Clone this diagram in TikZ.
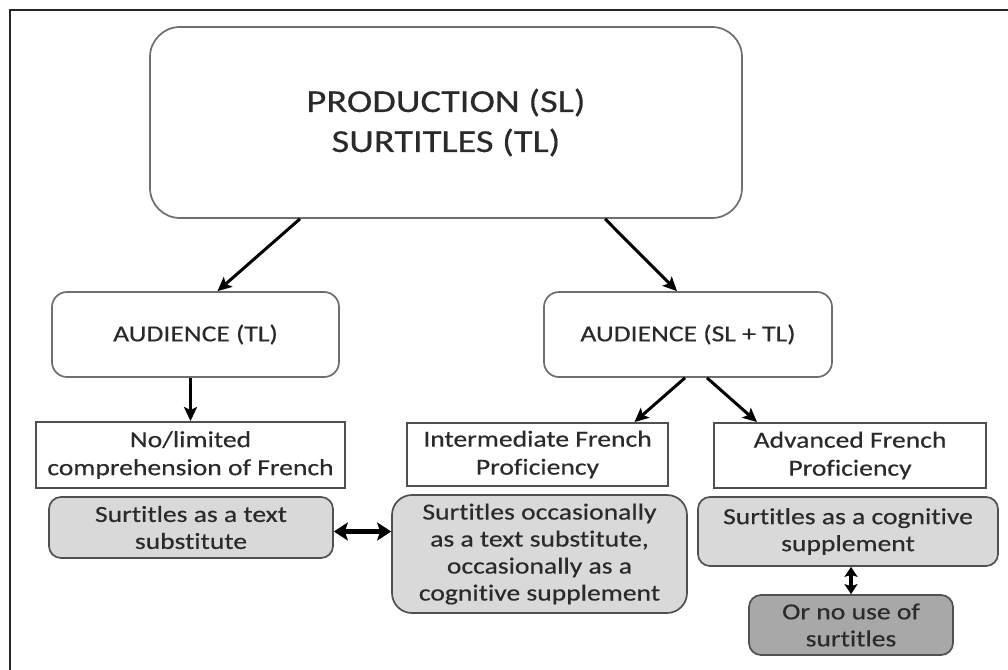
\documentclass[tikz,border=0pt]{standalone}
\usepackage{fontspec}
\setmainfont{Carlito}[FakeStretch=1.2, FakeBold=0.4, Ligatures={NoCommon}]
\usetikzlibrary{arrows.meta}
\definecolor{txt}{HTML}{2A2A2A}
\definecolor{lightfill}{HTML}{D9D9D9}
\definecolor{darkfill}{HTML}{A8A8A8}
\definecolor{edge}{HTML}{505050}
\definecolor{softedge}{HTML}{6E6E6E}
\begin{document}
\begin{tikzpicture}[x=1pt,y=-1pt,
  base/.style={align=center, text=txt, inner sep=0pt, font=\fontsize{23}{28}\selectfont},
  topbox/.style={base, draw=softedge, line width=1.7pt, rounded corners=30pt, font=\fontsize{32}{40}\selectfont},
  audbox/.style={base, draw=softedge, line width=1.7pt, rounded corners=15pt},
  rectbox/.style={base, draw=edge, line width=1.9pt},
  graybox/.style={base, draw=edge, fill=lightfill, line width=1.7pt, rounded corners=12pt, font=\fontsize{23}{27}\selectfont},
  darkbox/.style={graybox, fill=darkfill},
  arr/.style={draw=black, line width=3pt, -{Stealth[length=14pt,width=13pt,inset=3pt]}},
  dblarr/.style={draw=black, line width=5.5pt, {Stealth[length=14pt,width=18pt,inset=3pt]}-{Stealth[length=14pt,width=18pt,inset=3pt]}},
  vdblarr/.style={draw=black, line width=4pt, {Stealth[length=10pt,width=13pt,inset=2pt]}-{Stealth[length=10pt,width=13pt,inset=2pt]}},
  frame/.style={draw=black!85, line width=2pt}
]
\useasboundingbox (0,0) rectangle (1008,669);
\coordinate (fbl) at (10,670);
\coordinate (ftl) at (10,10);
\coordinate (ftr) at (1009,10);
\draw[frame] (fbl) -- (ftl) -- (ftr);

\node[topbox, minimum width=592pt, minimum height=191pt] (top) at (446,122.5) {PRODUCTION (SL)\\SURTITLES (TL)};

\node[audbox, minimum width=287pt, minimum height=85pt] (audtl) at (195.5,334.5) {AUDIENCE (TL)};
\node[audbox, minimum width=288pt, minimum height=85pt] (audsl) at (688,334.5) {AUDIENCE (SL + TL)};

\node[rectbox, minimum width=309pt, minimum height=66pt] (nolim) at (190.5,455) {No/limited\\comprehension of French};
\node[rectbox, minimum width=261pt, minimum height=63pt] (inter) at (537.5,454.5) {Intermediate French\\Proficiency};
\node[rectbox, minimum width=272pt, minimum height=65pt] (adv) at (850,455.5) {Advanced French\\Proficiency};

\node[graybox, minimum width=284pt, minimum height=61pt] (subst) at (191,527.5) {Surtitles as a text\\substitute};
\node[graybox, rounded corners=20pt, minimum width=295pt, minimum height=118pt] (occ) at (539.5,554) {Surtitles occasionally\\as a text substitute,\\occasionally as a\\cognitive supplement};
\node[graybox, minimum width=300pt, minimum height=69pt] (cog) at (848,531.5) {Surtitles as a cognitive\\supplement};
\node[darkbox, minimum width=204pt, minimum height=60pt] (nouse) at (851,625) {Or no use of\\surtitles};

\draw[arr] ([xshift=-146pt]top.south) -- ([xshift=22pt]audtl.north);
\draw[arr] ([xshift=159pt]top.south) -- ([xshift=-11pt]audsl.north);
\draw[arr] (audtl.south -| nolim.north) -- (nolim.north);
\draw[arr] ([xshift=-3pt]audsl.south) -- ([xshift=97pt]inter.north);
\draw[arr] ([xshift=19pt]audsl.south) -- ([xshift=-93pt]adv.north);

\draw[dblarr] ([yshift=-4pt]subst.east) -- ([yshift=-4pt]subst.east -| occ.west);
\draw[vdblarr] ([xshift=3pt]cog.south) -- ([xshift=3pt]cog.south |- nouse.north);
\end{tikzpicture}
\end{document}
